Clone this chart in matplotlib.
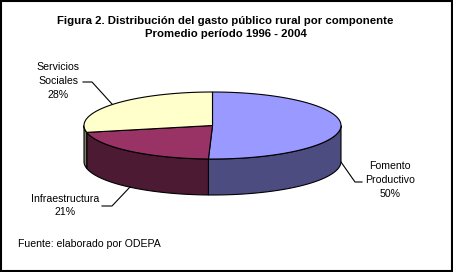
import numpy as np
import matplotlib
matplotlib.use("Agg")
import matplotlib.pyplot as plt
from matplotlib.patches import Polygon, Rectangle

labels = ["Fomento\nProductivo\n50%", "Infraestructura\n21%", "Servicios\nSociales\n28%"]
values = [50, 21, 28]
top_colors = ["#9999FF", "#993366", "#FFFFCC"]
side_colors = ["#4C4C80", "#4D1A33", "#808066"]

title = "Figura 2. Distribución del gasto público rural por componente\nPromedio período 1996 - 2004"
source = "Fuente: elaborado por ODEPA"

W, H = 453, 272
fig = plt.figure(figsize=(W / 100, H / 100), dpi=100)
ax = fig.add_axes([0, 0, 1, 1])
ax.set_xlim(0, W)
ax.set_ylim(H, 0)
ax.axis("off")

plt.rcParams["font.family"] = ["Liberation Sans", "DejaVu Sans"]

# pie geometry (pixels)
cx, cy = 212.5, 125.5
a, b = 128.5, 33.5
depth = 36


def pt(t, dy=0):
    r = np.radians(t)
    return cx + a * np.cos(r), cy - b * np.sin(r) + dy


fr = np.array(values) / sum(values) * 360
starts = 90 - np.concatenate([[0], np.cumsum(fr)[:-1]])
ends = starts - fr

# sides (front half only: angles between -180 and 0)
for s, e, col in zip(starts, ends, side_colors):
    hi = min(s, 0)
    lo = max(e, -180)
    if hi <= lo:
        continue
    ts = np.linspace(hi, lo, 60)
    top = [pt(t) for t in ts]
    bot = [pt(t, depth) for t in ts[::-1]]
    ax.add_patch(Polygon(top + bot, closed=True, facecolor=col,
                         edgecolor="black", linewidth=0.8))

# top faces
for s, e, col in zip(starts, ends, top_colors):
    ts = np.linspace(s, e, 100)
    poly = [(cx, cy)] + [pt(t) for t in ts]
    ax.add_patch(Polygon(poly, closed=True, facecolor=col,
                         edgecolor="black", linewidth=0.8))

fs = 7.6
# labels with leader lines
ax.text(390, 180, labels[0], ha="center", va="center", fontsize=fs, linespacing=1.45)
ax.plot([341, 355, 362], [162, 182, 182], color="black", lw=0.8)

ax.text(65, 205.5, labels[1], ha="center", va="center", fontsize=fs, linespacing=1.45)
ax.plot([130, 112, 102], [187, 206, 206], color="black", lw=0.8)

ax.text(58, 81, labels[2], ha="center", va="center", fontsize=fs, linespacing=1.45)
ax.plot([83, 92, 112], [82, 82, 104], color="black", lw=0.8)

ax.text(225.5, 27.5, title, ha="center", va="center", fontsize=8.2,
        fontweight="bold", linespacing=1.35)
ax.text(18, 244, source, ha="left", va="center", fontsize=fs)

ax.add_patch(Rectangle((0.5, 0.5), W - 1.5, H - 1.5, fill=False,
                       edgecolor="black", linewidth=1.5))

fig.savefig("out.png", dpi=100)
